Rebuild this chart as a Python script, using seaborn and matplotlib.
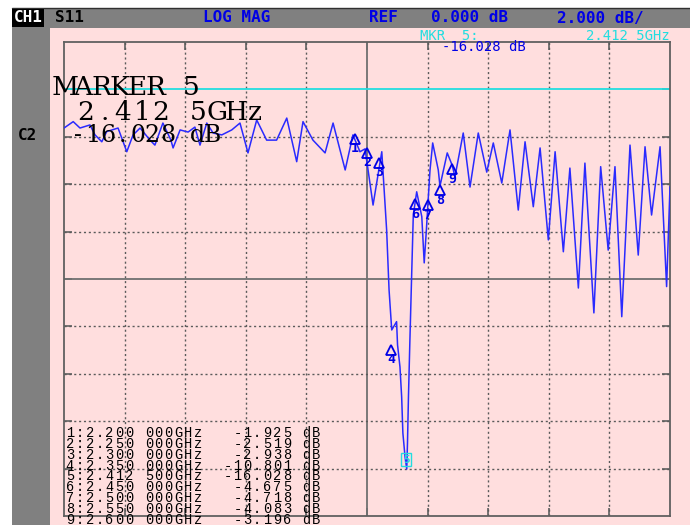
import numpy as np
import pandas as pd
import matplotlib
matplotlib.use("Agg")
import matplotlib.pyplot as plt
import matplotlib.transforms as mtransforms
from matplotlib.patches import Rectangle
import seaborn as sns

# S11 trace (GHz, dB)
freq_ghz = [1.000, 1.038, 1.066, 1.107, 1.128, 1.156, 1.176, 1.223, 1.259, 1.285,
            1.314, 1.355, 1.375, 1.408, 1.441, 1.450, 1.479, 1.512, 1.540, 1.561,
            1.589, 1.615, 1.651, 1.692, 1.726, 1.759, 1.795, 1.836, 1.877, 1.919,
            1.960, 1.986, 2.027, 2.077, 2.110, 2.160, 2.192, 2.221, 2.242, 2.275,
            2.311, 2.331, 2.341, 2.352, 2.372, 2.376, 2.386, 2.393, 2.398, 2.407,
            2.414, 2.417, 2.421, 2.427, 2.434, 2.441, 2.455, 2.476, 2.486, 2.495,
            2.502, 2.510, 2.521, 2.544, 2.551, 2.581, 2.601, 2.613, 2.647, 2.675,
            2.709, 2.744, 2.771, 2.806, 2.840, 2.874, 2.902, 2.936, 2.964, 2.998,
            3.026, 3.060, 3.087, 3.122, 3.149, 3.186, 3.214, 3.245, 3.273, 3.301,
            3.335, 3.369, 3.397, 3.424, 3.459, 3.486, 3.500]
s11_db = [-1.63, -1.36, -1.63, -1.50, -1.92, -2.21, -1.78, -1.63, -2.63, -1.92,
          -1.63, -2.14, -2.35, -1.42, -2.14, -2.47, -1.71, -1.80, -1.59, -2.35,
          -1.42, -1.84, -1.92, -1.71, -1.42, -2.68, -1.29, -2.14, -2.14, -1.21,
          -3.05, -1.36, -2.14, -2.68, -1.42, -3.40, -1.92, -2.63, -2.51, -4.88,
          -2.63, -5.93, -8.46, -10.15, -9.80, -10.78, -11.71, -12.98, -14.50, -15.51,
          -16.02, -14.92, -12.98, -10.57, -7.92, -5.30, -4.32, -5.37, -7.32, -5.93,
          -4.71, -3.40, -2.26, -3.40, -4.08, -2.68, -3.19, -3.68, -1.84, -4.12,
          -1.84, -3.49, -2.26, -3.95, -1.71, -5.09, -2.21, -4.95, -2.47, -6.35,
          -2.63, -6.85, -3.32, -8.38, -3.11, -9.43, -3.26, -6.78, -3.26, -9.59,
          -2.35, -6.99, -2.42, -5.30, -2.42, -8.32, -4.11]

# marker table
marker_ids = [1, 2, 3, 4, 5, 6, 7, 8, 9]
marker_freq = [2.200, 2.250, 2.300, 2.350, 2.4125, 2.450, 2.500, 2.550, 2.600]
marker_db = [-1.925, -2.519, -2.938, -10.801, -16.028, -4.675, -4.718, -4.083, -3.196]

START, STOP = 1.0, 3.5
REF, PER_DIV = 0.0, 2.0

W, H = 690, 525
BLUE = "#2a2aff"
TXT_BLUE = "#0000e6"
CYAN = "#22dde0"
GRID = "#5a5a5a"

sns.set_style("white")
plt.rcParams["font.family"] = ["DejaVu Sans Mono", "DejaVu Sans"]


def fx(x):
    return x / W


def fy(y):
    return 1 - y / H


fig = plt.figure(figsize=(W / 100, H / 100), dpi=100)
fig.patch.set_facecolor("white")

# instrument frame: grey bezel, pink screen
fig.add_artist(Rectangle((fx(12), 0), fx(W - 12), fy(8), transform=fig.transFigure,
                         facecolor="#808080", edgecolor="none", zorder=0))
fig.add_artist(Rectangle((fx(50), 0), fx(W - 50), fy(28), transform=fig.transFigure,
                         facecolor="#ffdede", edgecolor="none", zorder=0))
fig.add_artist(plt.Line2D([fx(12), 1], [fy(8), fy(8)], transform=fig.transFigure,
                          color="#303030", lw=1))

ax = fig.add_axes([fx(64), fy(516), fx(606), 474 / H])
ax.set_facecolor("none")

df = pd.DataFrame({"freq": freq_ghz, "db": s11_db})
sns.lineplot(data=df, x="freq", y="db", color=BLUE, linewidth=1.1, ax=ax, zorder=5)

top = REF + PER_DIV
bottom = REF - 9 * PER_DIV
ax.set_xlim(START, STOP)
ax.set_ylim(bottom, top)

step = (STOP - START) / 10
center_f = (START + STOP) / 2
xgrid = [START + k * step for k in range(1, 10)]
ygrid = [top - k * PER_DIV for k in range(1, 10)]
for xv in xgrid:
    if abs(xv - center_f) < 1e-9:
        ax.axvline(xv, color="#707070", lw=1.3, zorder=1)
    else:
        ax.axvline(xv, color=GRID, lw=1, ls=(0, (1.5, 2)), zorder=1)
for k, yv in enumerate(ygrid, start=1):
    if abs(yv - REF) < 1e-9:
        ax.axhline(yv, color=CYAN, lw=1.3, zorder=2)
    elif k == 5:
        ax.axhline(yv, color="#707070", lw=1.3, zorder=1)
    else:
        ax.axhline(yv, color=GRID, lw=1, ls=(0, (1.5, 2)), zorder=1)

for sp in ax.spines.values():
    sp.set_color("#606060")
    sp.set_linewidth(1.3)
# short solid graticule ticks on the frame
ax.set_xticks(xgrid)
ax.set_yticks(ygrid)
ax.tick_params(direction="in", length=6, width=1.2, color="#606060",
               top=True, bottom=True, left=True, right=True,
               labelbottom=False, labelleft=False)
ax.set_xlabel("")
ax.set_ylabel("")

# marker symbols
tri_tf = mtransforms.offset_copy(ax.transData, fig=fig, x=0, y=-3, units="points")
for mid, f, d in zip(marker_ids, marker_freq, marker_db):
    if mid == 5:
        ax.annotate(str(mid), xy=(f, d), xytext=(0, 7), textcoords="offset points",
                    ha="center", va="center", color=CYAN, fontsize=8, fontweight="bold",
                    bbox=dict(boxstyle="square,pad=0.15", fc="none", ec=CYAN, lw=1),
                    zorder=7)
        continue
    ax.plot([f], [d], marker="^", ms=7, mfc="none", mec=TXT_BLUE, mew=1.3,
            transform=tri_tf, zorder=6)
    ax.annotate(str(mid), xy=(f, d), xytext=(0, -10), textcoords="offset points",
                ha="center", va="center", color=TXT_BLUE, fontsize=9.5,
                fontweight="bold", zorder=6)

# header bar
hdr = dict(va="center", fontsize=11.5, fontweight="bold", family="DejaVu Sans Mono")
fig.text(fx(14), fy(18), "CH1", color="white", ha="left",
         bbox=dict(boxstyle="square,pad=0.1", fc="black", ec="none"), **hdr)
fig.text(fx(55), fy(18), "S11", color="black", ha="left", **hdr)
fig.text(fx(203), fy(18), "LOG MAG", color=TXT_BLUE, ha="left", **hdr)
fig.text(fx(369), fy(18), "REF", color=TXT_BLUE, ha="left", **hdr)
fig.text(fx(431), fy(18), "0.000 dB", color=TXT_BLUE, ha="left", **hdr)
fig.text(fx(557), fy(18), "2.000 dB/", color=TXT_BLUE, ha="left", **hdr)
fig.text(fx(18), fy(135), "C2", color="black", ha="left", **hdr)

fig.text(fx(420), fy(36), "MKR  5:", color=CYAN, ha="left", va="center", fontsize=10)
fig.text(fx(670), fy(36), "2.412 5GHz", color=CYAN, ha="right", va="center", fontsize=10)
fig.text(fx(442), fy(47), "-16.028 dB", color=TXT_BLUE, ha="left", va="center", fontsize=10)


def mono_text(x0, y, s, cw, size, family="DejaVu Serif"):
    # fixed-pitch placement, one glyph per cell like the instrument font
    for i, ch in enumerate(s):
        if ch == " ":
            continue
        fig.text(fx(x0 + (i + 0.5) * cw), fy(y), ch, ha="center", va="center",
                 fontsize=size, family=family, color="black", zorder=8)


mono_text(56, 88, "MARKER 5", 18, 19)
mono_text(76, 113, "2.412 5GHz", 18.8, 19)
mono_text(70, 135, "-16.028 dB", 15, 17)

# marker readout table
for i, (mid, f, d) in enumerate(zip(marker_ids, marker_freq, marker_db)):
    fs = f"{f:.6f}"
    line = f"{mid}:{fs[:5]} {fs[5:]}GHz {d:8.3f} dB"
    mono_text(65, 433 + i * 10.85, line, 9.86, 9.8, family="Liberation Mono")

fig.savefig("out.png", dpi=100, facecolor=fig.get_facecolor())
